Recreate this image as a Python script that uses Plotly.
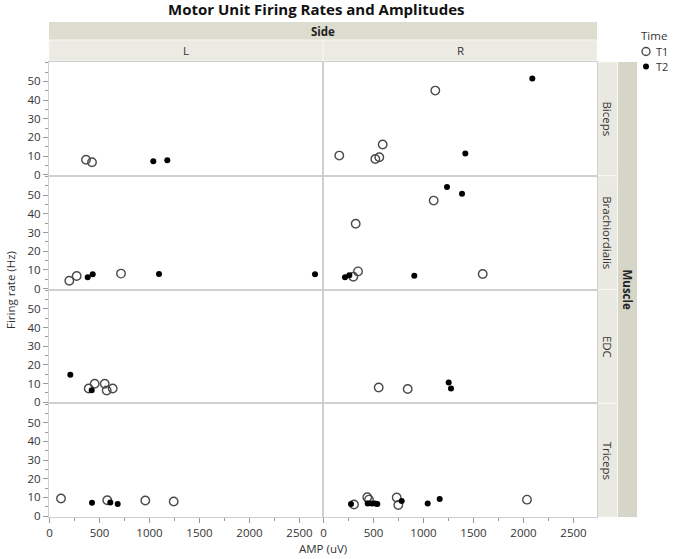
import plotly.graph_objects as go
from plotly.subplots import make_subplots

# ---------------- data (AMP in uV, firing rate in Hz) ----------------
muscles = ["Biceps", "Brachiordialis", "EDC", "Triceps"]
sides = ["L", "R"]
x_ticks = [0, 500, 1000, 1500, 2000, 2500]
y_ticks = [0, 10, 20, 30, 40, 50]

biceps_L_T1_amp = [365, 425]
biceps_L_T1_rate = [8.1, 6.7]
biceps_L_T2_amp = [1038, 1178]
biceps_L_T2_rate = [7.2, 7.8]
biceps_R_T1_amp = [158, 518, 558, 592, 1118]
biceps_R_T1_rate = [10.3, 8.5, 9.4, 16.2, 45.1]
biceps_R_T2_amp = [1418, 2088]
biceps_R_T2_rate = [11.4, 51.5]

brach_L_T1_amp = [198, 272, 715]
brach_L_T1_rate = [4.2, 6.7, 8.0]
brach_L_T2_amp = [382, 432, 1095, 2655]
brach_L_T2_rate = [6.0, 7.6, 7.8, 7.6]
brach_R_T1_amp = [298, 345, 322, 1102, 1592]
brach_R_T1_rate = [6.3, 9.2, 34.7, 47.1, 7.8]
brach_R_T2_amp = [215, 258, 908, 1235, 1385]
brach_R_T2_rate = [6.0, 7.1, 6.9, 54.4, 50.7]

edc_L_T1_amp = [392, 452, 552, 572, 632]
edc_L_T1_rate = [7.4, 9.9, 9.9, 6.3, 7.4]
edc_L_T2_amp = [208, 422]
edc_L_T2_rate = [14.7, 6.5]
edc_R_T1_amp = [552, 842]
edc_R_T1_rate = [7.9, 7.1]
edc_R_T2_amp = [1252, 1275]
edc_R_T2_rate = [10.6, 7.4]

tri_L_T1_amp = [115, 578, 958, 1242]
tri_L_T1_rate = [9.4, 8.5, 8.3, 7.8]
tri_L_T2_amp = [425, 608, 682]
tri_L_T2_rate = [7.1, 7.3, 6.4]
tri_R_T1_amp = [305, 438, 455, 732, 748, 2035]
tri_R_T1_rate = [6.2, 10.1, 8.8, 9.9, 5.9, 8.8]
tri_R_T2_amp = [275, 442, 482, 515, 538, 782, 1042, 1162]
tri_R_T2_rate = [6.5, 6.7, 6.7, 6.7, 6.5, 8.1, 6.7, 9.2]

panels = [
    (1, 1, biceps_L_T1_amp, biceps_L_T1_rate, biceps_L_T2_amp, biceps_L_T2_rate),
    (1, 2, biceps_R_T1_amp, biceps_R_T1_rate, biceps_R_T2_amp, biceps_R_T2_rate),
    (2, 1, brach_L_T1_amp, brach_L_T1_rate, brach_L_T2_amp, brach_L_T2_rate),
    (2, 2, brach_R_T1_amp, brach_R_T1_rate, brach_R_T2_amp, brach_R_T2_rate),
    (3, 1, edc_L_T1_amp, edc_L_T1_rate, edc_L_T2_amp, edc_L_T2_rate),
    (3, 2, edc_R_T1_amp, edc_R_T1_rate, edc_R_T2_amp, edc_R_T2_rate),
    (4, 1, tri_L_T1_amp, tri_L_T1_rate, tri_L_T2_amp, tri_L_T2_rate),
    (4, 2, tri_R_T1_amp, tri_R_T1_rate, tri_R_T2_amp, tri_R_T2_rate),
]

FONT = "Open Sans"
W, H = 685, 559
# plot area in window pixels: x 49..597, y 62..517
L, T = 49, 62
R = W - 597
B = H - 517
PW, PH = 597 - 49, 517 - 62

def px(xp):
    return (xp - 49) / PW

def py(yp):
    return (517 - yp) / PH

fig = make_subplots(rows=4, cols=2, horizontal_spacing=0, vertical_spacing=0,
                    shared_xaxes=True, shared_yaxes=True)

for r, c, a1, f1, a2, f2 in panels:
    fig.add_trace(go.Scatter(x=a1, y=f1, mode="markers", name="T1", showlegend=False,
                             marker=dict(symbol="circle-open", size=8.5, color="#4a4a4a",
                                         line=dict(width=1.4))), row=r, col=c)
    fig.add_trace(go.Scatter(x=a2, y=f2, mode="markers", name="T2", showlegend=False,
                             marker=dict(symbol="circle", size=6, color="#000000")), row=r, col=c)

tickfont = dict(family=FONT, size=11.5, color="#333333")
fig.update_xaxes(range=[-5, 2735], showgrid=False, zeroline=False, showline=True, mirror=True,
                 linecolor="#cfcfcf", linewidth=1, tickvals=x_ticks, tickfont=tickfont,
                 ticks="", showticklabels=False)
fig.update_xaxes(row=4, ticks="outside", ticklen=5, tickcolor="#9a9a9a", showticklabels=True,
                 minor=dict(dtick=250, tick0=0, ticks="outside", ticklen=3, tickcolor="#9a9a9a"))
fig.update_yaxes(range=[-0.5, 60.4], showgrid=False, zeroline=False, showline=True, mirror=True,
                 linecolor="#cfcfcf", linewidth=1, tickvals=y_ticks, tickfont=tickfont,
                 ticks="", showticklabels=False)
fig.update_yaxes(col=1, ticks="outside", ticklen=5, tickcolor="#9a9a9a", showticklabels=True,
                 minor=dict(dtick=5, tick0=0, ticks="outside", ticklen=3, tickcolor="#9a9a9a"))

shapes = []
ann = []

def text(t, x, y, size=11.5, color="#333333", angle=0, xanchor="center", pad=1):
    ann.append(dict(text=t, x=x, y=y, xref="paper", yref="paper", showarrow=False,
                    xanchor=xanchor, yanchor="middle", textangle=angle, borderpad=pad,
                    font=dict(family=FONT, size=size, color=color)))

# top strips
shapes.append(dict(type="rect", xref="paper", yref="paper", x0=0, x1=1, y0=py(40), y1=py(22),
                   fillcolor="#dcdccf", line=dict(width=0), layer="below"))
for i, s in enumerate(sides):
    shapes.append(dict(type="rect", xref="paper", yref="paper", x0=i * 0.5, x1=(i + 1) * 0.5,
                       y0=py(61), y1=py(40), fillcolor="#ebebe3",
                       line=dict(width=1, color="#f7f7f3"), layer="below"))
    text(s, i * 0.5 + 0.25, py(50.5))
text("<b>Side</b>", 0.5, py(31), color="#222222")
# right strips
shapes.append(dict(type="rect", xref="paper", yref="paper", x0=px(617.5), x1=px(637),
                   y0=0, y1=py(62), fillcolor="#d6d6c8", line=dict(width=0), layer="below"))
for i, m in enumerate(muscles):
    y1 = 1 - i * 0.25
    y0 = 1 - (i + 1) * 0.25
    shapes.append(dict(type="rect", xref="paper", yref="paper", x0=px(597.5), x1=px(617.5),
                       y0=y0, y1=y1, fillcolor="#e9e9e1",
                       line=dict(width=1, color="#f7f7f3"), layer="below"))
    text(m, px(607.5), (y0 + y1) / 2, angle=90)
text("<b>Muscle</b>", px(627), 0.5, color="#222222", angle=90)

# titles
text("<b>Motor Unit Firing Rates and Amplitudes</b>", px(316), py(9), size=15, color="#111111")
text("AMP (uV)", 0.5, py(548))
text("Firing rate (Hz)", px(10), py(290), angle=-90)

# legend (drawn manually)
text("Time", px(640), py(35), xanchor="left", pad=0)
for lbl, yy, sym in [("T1", 51.5, "open"), ("T2", 66.5, "filled")]:
    text(lbl, px(655), py(yy), size=11, xanchor="left", pad=0)
    if sym == "open":
        shapes.append(dict(type="circle", xref="paper", yref="paper", xsizemode="pixel",
                           ysizemode="pixel", xanchor=px(646), yanchor=py(yy), x0=-4, x1=4,
                           y0=-4, y1=4, line=dict(color="#4a4a4a", width=1.4)))
    else:
        shapes.append(dict(type="circle", xref="paper", yref="paper", xsizemode="pixel",
                           ysizemode="pixel", xanchor=px(646), yanchor=py(yy), x0=-3, x1=3,
                           y0=-3, y1=3, fillcolor="#000000", line=dict(width=0)))

fig.update_layout(width=W, height=H, margin=dict(l=L, r=R, t=T, b=B),
                  paper_bgcolor="white", plot_bgcolor="white", showlegend=False,
                  shapes=shapes, annotations=ann, font=dict(family=FONT))

fig.write_html("out.html", config={"displayModeBar": False},
               post_script="document.body.style.margin='0';document.body.style.overflow='hidden';")
